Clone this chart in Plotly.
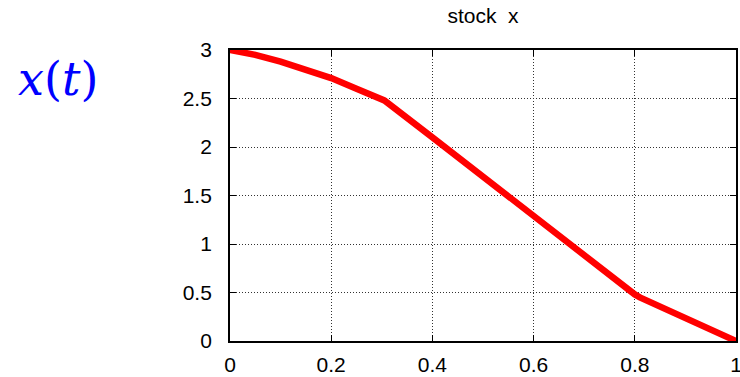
import plotly.graph_objects as go

t_vals = [0.0, 0.05, 0.1, 0.15, 0.2, 0.25, 0.305, 0.4, 0.5, 0.6, 0.7, 0.8, 0.81, 0.9, 1.0]
x_vals = [3.0, 2.95, 2.88, 2.80, 2.71, 2.60, 2.48, 2.10, 1.69, 1.28, 0.88, 0.48, 0.45, 0.23, 0.0]
x_ticks = [0, 0.2, 0.4, 0.6, 0.8, 1]
x_ticklabels = ["0", "0.2", "0.4", "0.6", "0.8", "1"]
y_ticks = [0, 0.5, 1, 1.5, 2, 2.5, 3]
y_ticklabels = ["0", "0.5", "1", "1.5", "2", "2.5", "3"]

W, H = 740, 377
L, R, T, B = 230, 4, 50, 36
PW, PH = W - L - R, H - T - B

fig = go.Figure()
fig.add_trace(go.Scatter(x=t_vals, y=x_vals, mode="lines",
                         line=dict(color="#ff0000", width=6.5), showlegend=False,
                         cliponaxis=False, hoverinfo="skip"))

axis_common = dict(showline=True, linecolor="black", linewidth=1.8, mirror="ticks",
                   ticks="inside", ticklen=6, tickcolor="black", tickwidth=1.2,
                   showgrid=True, gridcolor="#333333", gridwidth=1, griddash="1px,2px",
                   zeroline=False, automargin=False, ticklabeloverflow="allow",
                   tickfont=dict(family="Liberation Sans, Arial, sans-serif", size=21, color="black"))

fig.update_xaxes(range=[0, 1], tickvals=x_ticks, ticktext=x_ticklabels,
                 ticklabelstandoff=4, **axis_common)
fig.update_yaxes(range=[0, 3], tickvals=y_ticks, ticktext=y_ticklabels,
                 ticklabelstandoff=12, **axis_common)

fig.update_layout(
    width=W, height=H,
    margin=dict(l=L, r=R, t=T, b=B, pad=0, autoexpand=False),
    paper_bgcolor="white", plot_bgcolor="white",
    title=dict(text="stock&nbsp; x", x=(L + PW / 2) / W, xanchor="center",
               y=1 - 15.6 / H, yanchor="middle", automargin=False,
               font=dict(family="Liberation Sans, Arial, sans-serif", size=21, color="black")),
    annotations=[dict(text="<i>x</i>(<i>t</i>)", xref="paper", yref="paper",
                      x=(57.5 - L) / PW, y=(H - B - 79) / PH, xanchor="center", yanchor="middle",
                      showarrow=False,
                      font=dict(family="DejaVu Serif", size=46, color="#0000ff"))],
)

fig.write_html("out.html", config={"displayModeBar": False},
               post_script="document.body.style.margin='0';")
